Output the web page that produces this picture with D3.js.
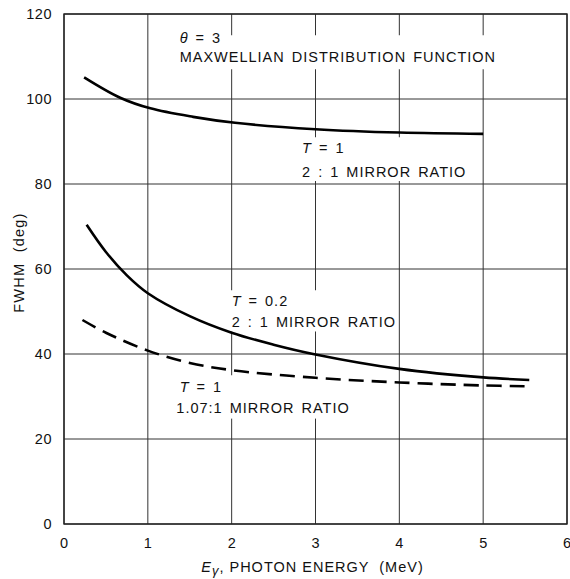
<!DOCTYPE html>
<html>
<head>
<meta charset="utf-8">
<script src="https://cdn.jsdelivr.net/npm/d3@7"></script>
<style>
  body { margin: 0; background: #fff; }
  text { font-family: "Liberation Sans", Arial, sans-serif; fill: #111; white-space: pre; }
  .grid line { stroke: #333; stroke-width: 1; }
</style>
</head>
<body>
<div id="chart"></div>
<script>
/* FWHM vs photon energy, three curves */

// series: T = 1, 2:1 mirror ratio
const energyA = [0.24, 0.67, 1.03, 1.54, 2.04, 3, 4, 5];
const fwhmA   = [105.1, 100.3, 97.8, 95.8, 94.4, 92.9, 92.1, 91.8];

// series: T = 0.2, 2:1 mirror ratio
const energyB = [0.27, 0.5, 0.75, 1, 1.5, 2, 2.5, 3, 4, 5, 5.55];
const fwhmB   = [70.4, 64.0, 58.5, 54.3, 48.9, 45.0, 42.2, 39.9, 36.5, 34.5, 33.9];

// series: T = 1, 1.07:1 mirror ratio (dashed)
const energyC = [0.22, 0.5, 1, 1.5, 2, 3, 4, 5, 5.55];
const fwhmC   = [48.0, 45.0, 40.8, 37.9, 36.2, 34.4, 33.3, 32.6, 32.4];

const xTicks = [0, 1, 2, 3, 4, 5, 6];
const yTicks = [0, 20, 40, 60, 80, 100, 120];

const width = 570,
    height = 579,
    margin = ({ top: 14, right: 3, bottom: 55, left: 64 });

const svg = d3.select("#chart")
    .append("svg")
    .attr("width", width)
    .attr("height", height);

let x = d3.scaleLinear()
    .domain([0, 6])
    .range([margin.left, width - margin.right]);

let y = d3.scaleLinear()
    .domain([0, 120])
    .range([height - margin.bottom, margin.top]);

// grid lines
svg.append("g")
    .attr("class", "grid")
    .selectAll("line.v")
    .data(xTicks)
    .join("line")
    .attr("x1", d => x(d)).attr("x2", d => x(d))
    .attr("y1", y(0)).attr("y2", y(120));

svg.append("g")
    .attr("class", "grid")
    .selectAll("line.h")
    .data(yTicks)
    .join("line")
    .attr("x1", x(0)).attr("x2", x(6))
    .attr("y1", d => y(d)).attr("y2", d => y(d));

// white boxes under the text blocks (grid lines are broken there)
const boxes = [
    [1.32, 5.07, 115, 107],
    [2.78, 4.72, 91, 80.7],
    [1.94, 3.86, 55, 45.3],
    [1.29, 3.58, 35, 24.8]
];
svg.append("g")
    .selectAll("rect")
    .data(boxes)
    .join("rect")
    .attr("x", d => x(d[0]))
    .attr("y", d => y(d[2]))
    .attr("width", d => x(d[1]) - x(d[0]))
    .attr("height", d => y(d[3]) - y(d[2]))
    .attr("fill", "#fff");

// tick labels
svg.append("g")
    .selectAll("text")
    .data(yTicks)
    .join("text")
    .attr("x", margin.left - 12)
    .attr("y", d => y(d))
    .attr("dy", "0.36em")
    .attr("text-anchor", "end")
    .attr("font-size", 14.5)
    .attr("letter-spacing", 0.5)
    .text(d => d);

svg.append("g")
    .selectAll("text")
    .data(xTicks)
    .join("text")
    .attr("x", d => x(d))
    .attr("y", y(0) + 24)
    .attr("text-anchor", "middle")
    .attr("font-size", 14.5)
    .text(d => d);

// axis titles
let xl = svg.append("text")
    .attr("x", x(3) - 3)
    .attr("y", height - 7)
    .attr("text-anchor", "middle")
    .attr("font-size", 14.5)
    .attr("letter-spacing", 1);
xl.append("tspan").attr("font-style", "italic").text("E");
xl.append("tspan").attr("font-style", "italic").attr("dy", 3).attr("font-size", 13).text("γ");
xl.append("tspan").attr("dy", -3).text(", PHOTON ENERGY  (MeV)");

svg.append("text")
    .attr("transform", `translate(24,${y(61.5)}) rotate(-90)`)
    .attr("text-anchor", "middle")
    .attr("font-size", 14.5)
    .attr("letter-spacing", 1.2)
    .text("FWHM  (deg)");

// curves
let line = d3.line()
    .x(d => x(d[0]))
    .y(d => y(d[1]))
    .curve(d3.curveCatmullRom.alpha(0.5));

const series = [
    { e: energyA, f: fwhmA, dash: null },
    { e: energyB, f: fwhmB, dash: null },
    { e: energyC, f: fwhmC, dash: "15,8" }
];

svg.append("g")
    .selectAll("path")
    .data(series)
    .join("path")
    .attr("d", s => line(d3.zip(s.e, s.f)))
    .attr("fill", "none")
    .attr("stroke", "#000")
    .attr("stroke-width", 2.6)
    .attr("stroke-dasharray", s => s.dash);

// annotations
function label(x0, y0, parts) {
    let t = svg.append("text")
        .attr("x", x(x0))
        .attr("y", y(y0))
        .attr("font-size", 14.5)
        .attr("letter-spacing", 1)
        .attr("word-spacing", 2);
    parts.forEach(p => t.append("tspan")
        .attr("font-style", p[1] ? "italic" : null)
        .text(p[0]));
}

label(1.38, 113.2, [["θ", true], [" = 3", false]]);
label(1.38, 108.7, [["MAXWELLIAN DISTRIBUTION FUNCTION", false]]);

label(2.84, 87.3, [["T", true], [" = 1", false]]);
label(2.84, 81.6, [["2 : 1 MIRROR RATIO", false]]);

label(2.0, 51.3, [["T", true], [" = 0.2", false]]);
label(2.0, 46.4, [["2 : 1 MIRROR RATIO", false]]);

label(1.38, 31.1, [["T", true], [" = 1", false]]);
label(1.34, 26.1, [["1.07:1 MIRROR RATIO", false]]);

// frame
svg.append("rect")
    .attr("x", x(0)).attr("y", y(120))
    .attr("width", x(6) - x(0)).attr("height", y(0) - y(120))
    .attr("fill", "none")
    .attr("stroke", "#222")
    .attr("stroke-width", 1.4);
</script>
</body>
</html>
